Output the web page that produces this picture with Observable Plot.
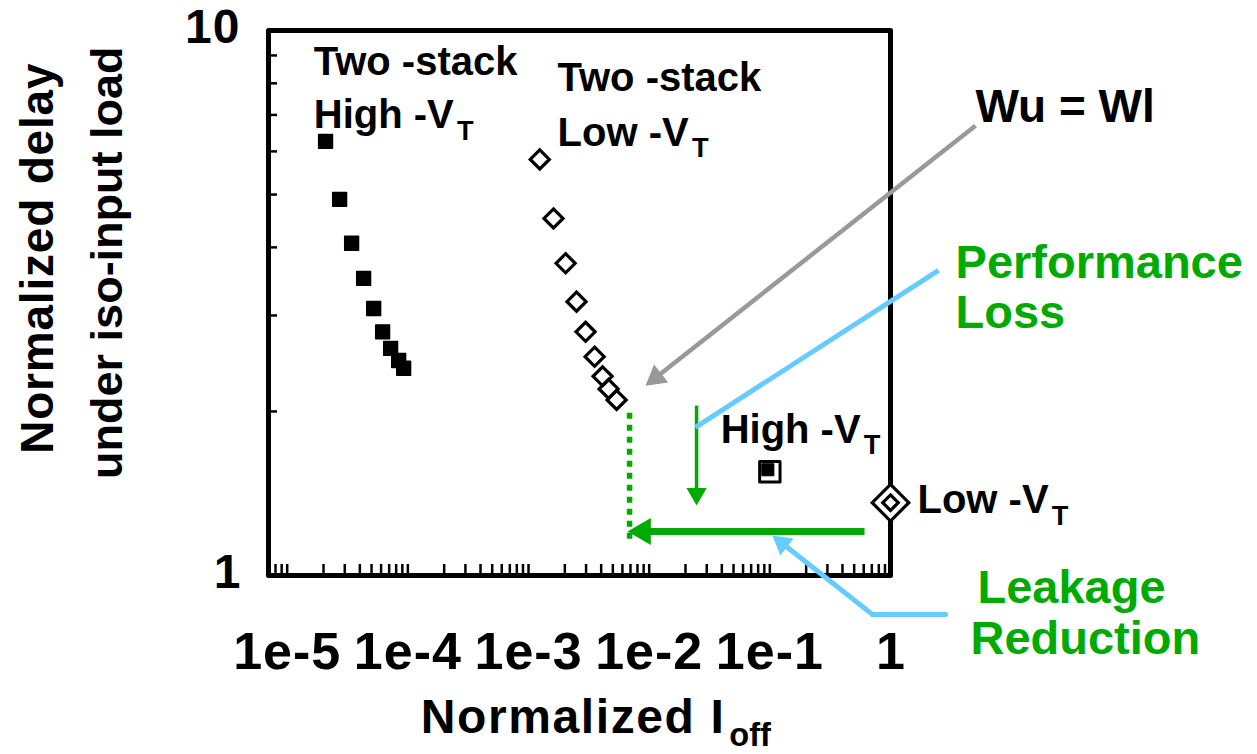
<!DOCTYPE html>
<html><head><meta charset="utf-8">
<script src="https://cdn.jsdelivr.net/npm/d3@7"></script>
<script src="https://cdn.jsdelivr.net/npm/@observablehq/plot@0.6"></script>
<style>
html,body{margin:0;padding:0;background:#fff;}
#chart{width:1257px;height:754px;}
</style></head><body><div id="chart"></div>
<script>
// ---------- data ----------
const twoStackHighVT_Ioff  = [2.08e-5, 2.72e-5, 3.42e-5, 4.30e-5, 5.21e-5, 6.18e-5, 7.20e-5, 8.39e-5, 9.23e-5];
const twoStackHighVT_delay = [6.26, 4.90, 4.07, 3.51, 3.09, 2.80, 2.61, 2.48, 2.40];
const twoStackLowVT_Ioff   = [1.24e-3, 1.61e-3, 2.03e-3, 2.50e-3, 2.97e-3, 3.53e-3, 4.11e-3, 4.61e-3, 5.37e-3];
const twoStackLowVT_delay  = [5.80, 4.52, 3.74, 3.18, 2.80, 2.52, 2.32, 2.20, 2.10];
const highVT_Ioff  = [0.1];
const highVT_delay = [1.55];
const lowVT_Ioff   = [1];
const lowVT_delay  = [1.36];

const xTickValues = [1e-5, 1e-4, 1e-3, 1e-2, 1e-1, 1];
const xTickLabels = ["1e-5", "1e-4", "1e-3", "1e-2", "1e-1", "1"];
const yTickValues = [1, 10];
const yTickLabels = ["1", "10"];
const yMinorTicks = [2, 3, 4, 5, 6, 7, 8, 9];

// annotation text (anchored in data units)
const stackLabelText = ["Two -stack", "High -V_{T}", "Two -stack", "Low -V_{T}", "High -V_{T}", "Low -V_{T}"];
const stackLabelX    = [1.66e-5, 1.66e-5, 1.74e-3, 1.74e-3, 0.0391, 1.674];
const stackLabelY    = [8.27, 6.61, 7.76, 6.15, 1.754, 1.300];
const wuLabel        = {t: "Wu = Wl", x: 5.06, y: 6.78};
const greenLabelText = ["Performance", "Loss", "Leakage", "Reduction"];
const greenLabelX    = [3.46, 3.46, 5.26, 4.60];
const greenLabelY    = [3.51, 2.84, 0.892, 0.719];

// annotation lines / arrows (data units)
const grayArrow      = {x1: 5.06, y1: 6.69, x2: 9.33e-3, y2: 2.23};
const perfLossLine   = {x1: 0.0242, y1: 1.87, x2: 2.50, y2: 3.63};
const leakLineStart  = {x: 2.86, y: 0.848};
const leakLineCorner = {x: 0.709, y: 0.848};
const leakArrowTip   = {x: 0.105, y: 1.184};
const dottedLine     = {x: 6.88e-3, y1: 1.99, y2: 1.16};
const perfArrow      = {x: 0.0247, y1: 2.05, y2: 1.345};
const leakArrow      = {y: 1.204, x1: 0.609, x2: 6.62e-3};

// ---------- chart ----------
const W = 1257, H = 754, ML = 268, MR = 367, MT = 30, MB = 179;
const frameH = H - MT - MB, frameW = W - ML - MR;
const green = "#00aa00", blue = "#66ccff", gray = "#999999";
const xDomain = [7e-6, 1], yDomain = [1, 10];

const highData = twoStackHighVT_Ioff.map((x, i) => ({x, y: twoStackHighVT_delay[i]}));
const lowData  = twoStackLowVT_Ioff.map((x, i) => ({x, y: twoStackLowVT_delay[i]}));
const highSingle = highVT_Ioff.map((x, i) => ({x, y: highVT_delay[i]}));
const lowSingle  = lowVT_Ioff.map((x, i) => ({x, y: lowVT_delay[i]}));
const xMinor = d3.scaleLog().domain(xDomain).ticks().filter(t => t > xDomain[0] * 1.001 && t < xDomain[1] * 0.999);

const stackLabels = stackLabelText.map((t, i) => ({t, x: stackLabelX[i], y: stackLabelY[i]}));
const greenLabels = greenLabelText.map((t, i) => ({t, x: greenLabelX[i], y: greenLabelY[i]}));

const bold = {fontWeight: "bold"};

const chart = Plot.plot({
  width: W, height: H,
  marginLeft: ML, marginRight: MR, marginTop: MT, marginBottom: MB,
  style: {fontFamily: "'Liberation Sans', Arial, Helvetica, sans-serif", background: "white", color: "black"},
  x: {type: "log", domain: xDomain, axis: null},
  y: {type: "log", domain: yDomain, axis: null},
  marks: [
    // ticks pointing inward
    Plot.tickX(xMinor, {x: d => d, stroke: "black", strokeWidth: 2.5, insetTop: frameH - 11}),
    Plot.tickY(yMinorTicks, {y: d => d, stroke: "black", strokeWidth: 2.5, insetRight: frameW - 9}),
    Plot.frame({stroke: "black", strokeWidth: 5, strokeLinejoin: "round"}),
    // tick labels
    Plot.text(xTickValues, {x: d => d, text: (d, i) => xTickLabels[i], frameAnchor: "bottom", dy: 57,
      lineAnchor: "top", fontSize: 52, ...bold}),
    Plot.text(yTickValues, {y: d => d, text: (d, i) => yTickLabels[i], frameAnchor: "left", dx: -28, dy: -3,
      textAnchor: "end", fontSize: 48, ...bold}),
    // axis titles
    Plot.text([{t: "Normalized delay", x: 8.57e-8, y: 3.82}],
      {x: "x", y: "y", text: "t", rotate: -90, fontSize: 46, ...bold}),
    Plot.text([{t: "under iso-input load", x: 3.26e-7, y: 3.75}],
      {x: "x", y: "y", text: "t", rotate: -90, fontSize: 45, ...bold}),
    Plot.text([{t: "Normalized I_{off}", x: 1.28e-4, y: 0.515}],
      {x: "x", y: "y", text: "t", textAnchor: "start", lineAnchor: "bottom", fontSize: 48, ...bold}),

    // green annotations
    Plot.link([dottedLine], {x1: "x", x2: "x", y1: "y1", y2: "y2", stroke: green, strokeWidth: 5.5, strokeDasharray: "6,6"}),
    Plot.arrow([perfArrow], {x1: "x", x2: "x", y1: "y1", y2: "y2", stroke: green, strokeWidth: 3.5,
      headLength: 0, insetEnd: 10, strokeLinecap: "butt"}),
    Plot.dot([perfArrow], {x: "x", y: "y2", symbol: "triangle", r: 7.5, rotate: 180, fill: green, stroke: "none", dy: -11.6}),
    Plot.arrow([leakArrow], {x1: "x1", x2: "x2", y1: "y", y2: "y", stroke: green, strokeWidth: 7,
      headLength: 0, insetEnd: 14, strokeLinecap: "butt"}),
    Plot.dot([leakArrow], {x: "x2", y: "y", symbol: "triangle", r: 10, rotate: -90, fill: green, stroke: "none", dx: 15.5}),

    // gray arrow
    Plot.arrow([grayArrow], {x1: "x1", y1: "y1", x2: "x2", y2: "y2", stroke: gray, strokeWidth: 4.5,
      headLength: 0, insetEnd: 12, strokeLinecap: "butt"}),
    Plot.dot([grayArrow], {x: "x2", y: "y2", symbol: "triangle", r: 8.5, rotate: -128.2, fill: gray, stroke: "none", dx: 10.4, dy: -8.2}),

    // blue lines
    Plot.link([perfLossLine], {x1: "x1", y1: "y1", x2: "x2", y2: "y2", stroke: blue, strokeWidth: 5}),
    Plot.line([leakLineStart, leakLineCorner], {x: "x", y: "y", stroke: blue, strokeWidth: 5, strokeLinecap: "round"}),
    Plot.arrow([{a: leakLineCorner, b: leakArrowTip}], {x1: d => d.a.x, y1: d => d.a.y, x2: d => d.b.x, y2: d => d.b.y,
      stroke: blue, strokeWidth: 5, headLength: 0, insetEnd: 12, strokeLinecap: "round"}),
    Plot.dot([leakArrowTip], {x: "x", y: "y", symbol: "triangle", r: 8, rotate: -51.7, fill: blue, stroke: "none", dx: 9.7, dy: 7.7}),

    // data markers
    Plot.dot(highData, {x: "x", y: "y", symbol: "square", r: 7.8, fill: "black", stroke: "black", strokeWidth: 1.5, strokeLinejoin: "round"}),
    Plot.dot(lowData, {x: "x", y: "y", symbol: "diamond2", r: 8.6, fill: "none", stroke: "black", strokeWidth: 3.2}),
    Plot.dot(highSingle, {x: "x", y: "y", symbol: "square", r: 11.5, fill: "white", stroke: "black", strokeWidth: 3, strokeLinejoin: "round"}),
    Plot.dot(highSingle, {x: "x", y: "y", symbol: "square", r: 6.8, fill: "black", stroke: "black", strokeWidth: 1, dx: -2, dy: -2}),
    Plot.dot(lowSingle, {x: "x", y: "y", symbol: "diamond2", r: 16.5, fill: "white", stroke: "black", strokeWidth: 3.2}),
    Plot.dot(lowSingle, {x: "x", y: "y", symbol: "diamond2", r: 7, fill: "none", stroke: "black", strokeWidth: 3.2}),

    // labels
    Plot.text(stackLabels, {x: "x", y: "y", text: "t", textAnchor: "start", lineAnchor: "bottom", fontSize: 40, fill: "black", ...bold}),
    Plot.text([wuLabel], {x: "x", y: "y", text: "t", textAnchor: "start", lineAnchor: "bottom", fontSize: 46, fill: "black", ...bold}),
    Plot.text(greenLabels, {x: "x", y: "y", text: "t", textAnchor: "start", lineAnchor: "bottom", fontSize: 47, fill: green, ...bold})
  ]
});

// letter spacing for the wider texts of the reference, and "_{...}" as real subscripts
(function postprocess(svg) {
  const SVGNS = "http://www.w3.org/2000/svg";
  const spacing = [[/^Normalized I/, 1.6], [/^1e-/, 1], [/^10$/, 1], [/^Normalized delay/, 0.8]];
  svg.querySelectorAll("text").forEach(t => {
    const s = t.textContent;
    for (const [re, ls] of spacing) if (re.test(s)) t.setAttribute("letter-spacing", ls);
    const nodes = [];
    const walker = document.createTreeWalker(t, NodeFilter.SHOW_TEXT);
    while (walker.nextNode()) nodes.push(walker.currentNode);
    nodes.forEach(n => {
      const m = n.nodeValue.match(/^(.*)_\{(.+)\}$/);
      if (!m) return;
      n.nodeValue = m[1];
      const ts = document.createElementNS(SVGNS, "tspan");
      ts.setAttribute("font-size", "0.68em");
      ts.setAttribute("dy", "0.42em");
      ts.setAttribute("dx", "0.12em");
      ts.setAttribute("letter-spacing", "0");
      ts.textContent = m[2];
      n.parentNode.insertBefore(ts, n.nextSibling);
    });
  });
})(chart);

document.getElementById("chart").appendChild(chart);
</script>
</body></html>
